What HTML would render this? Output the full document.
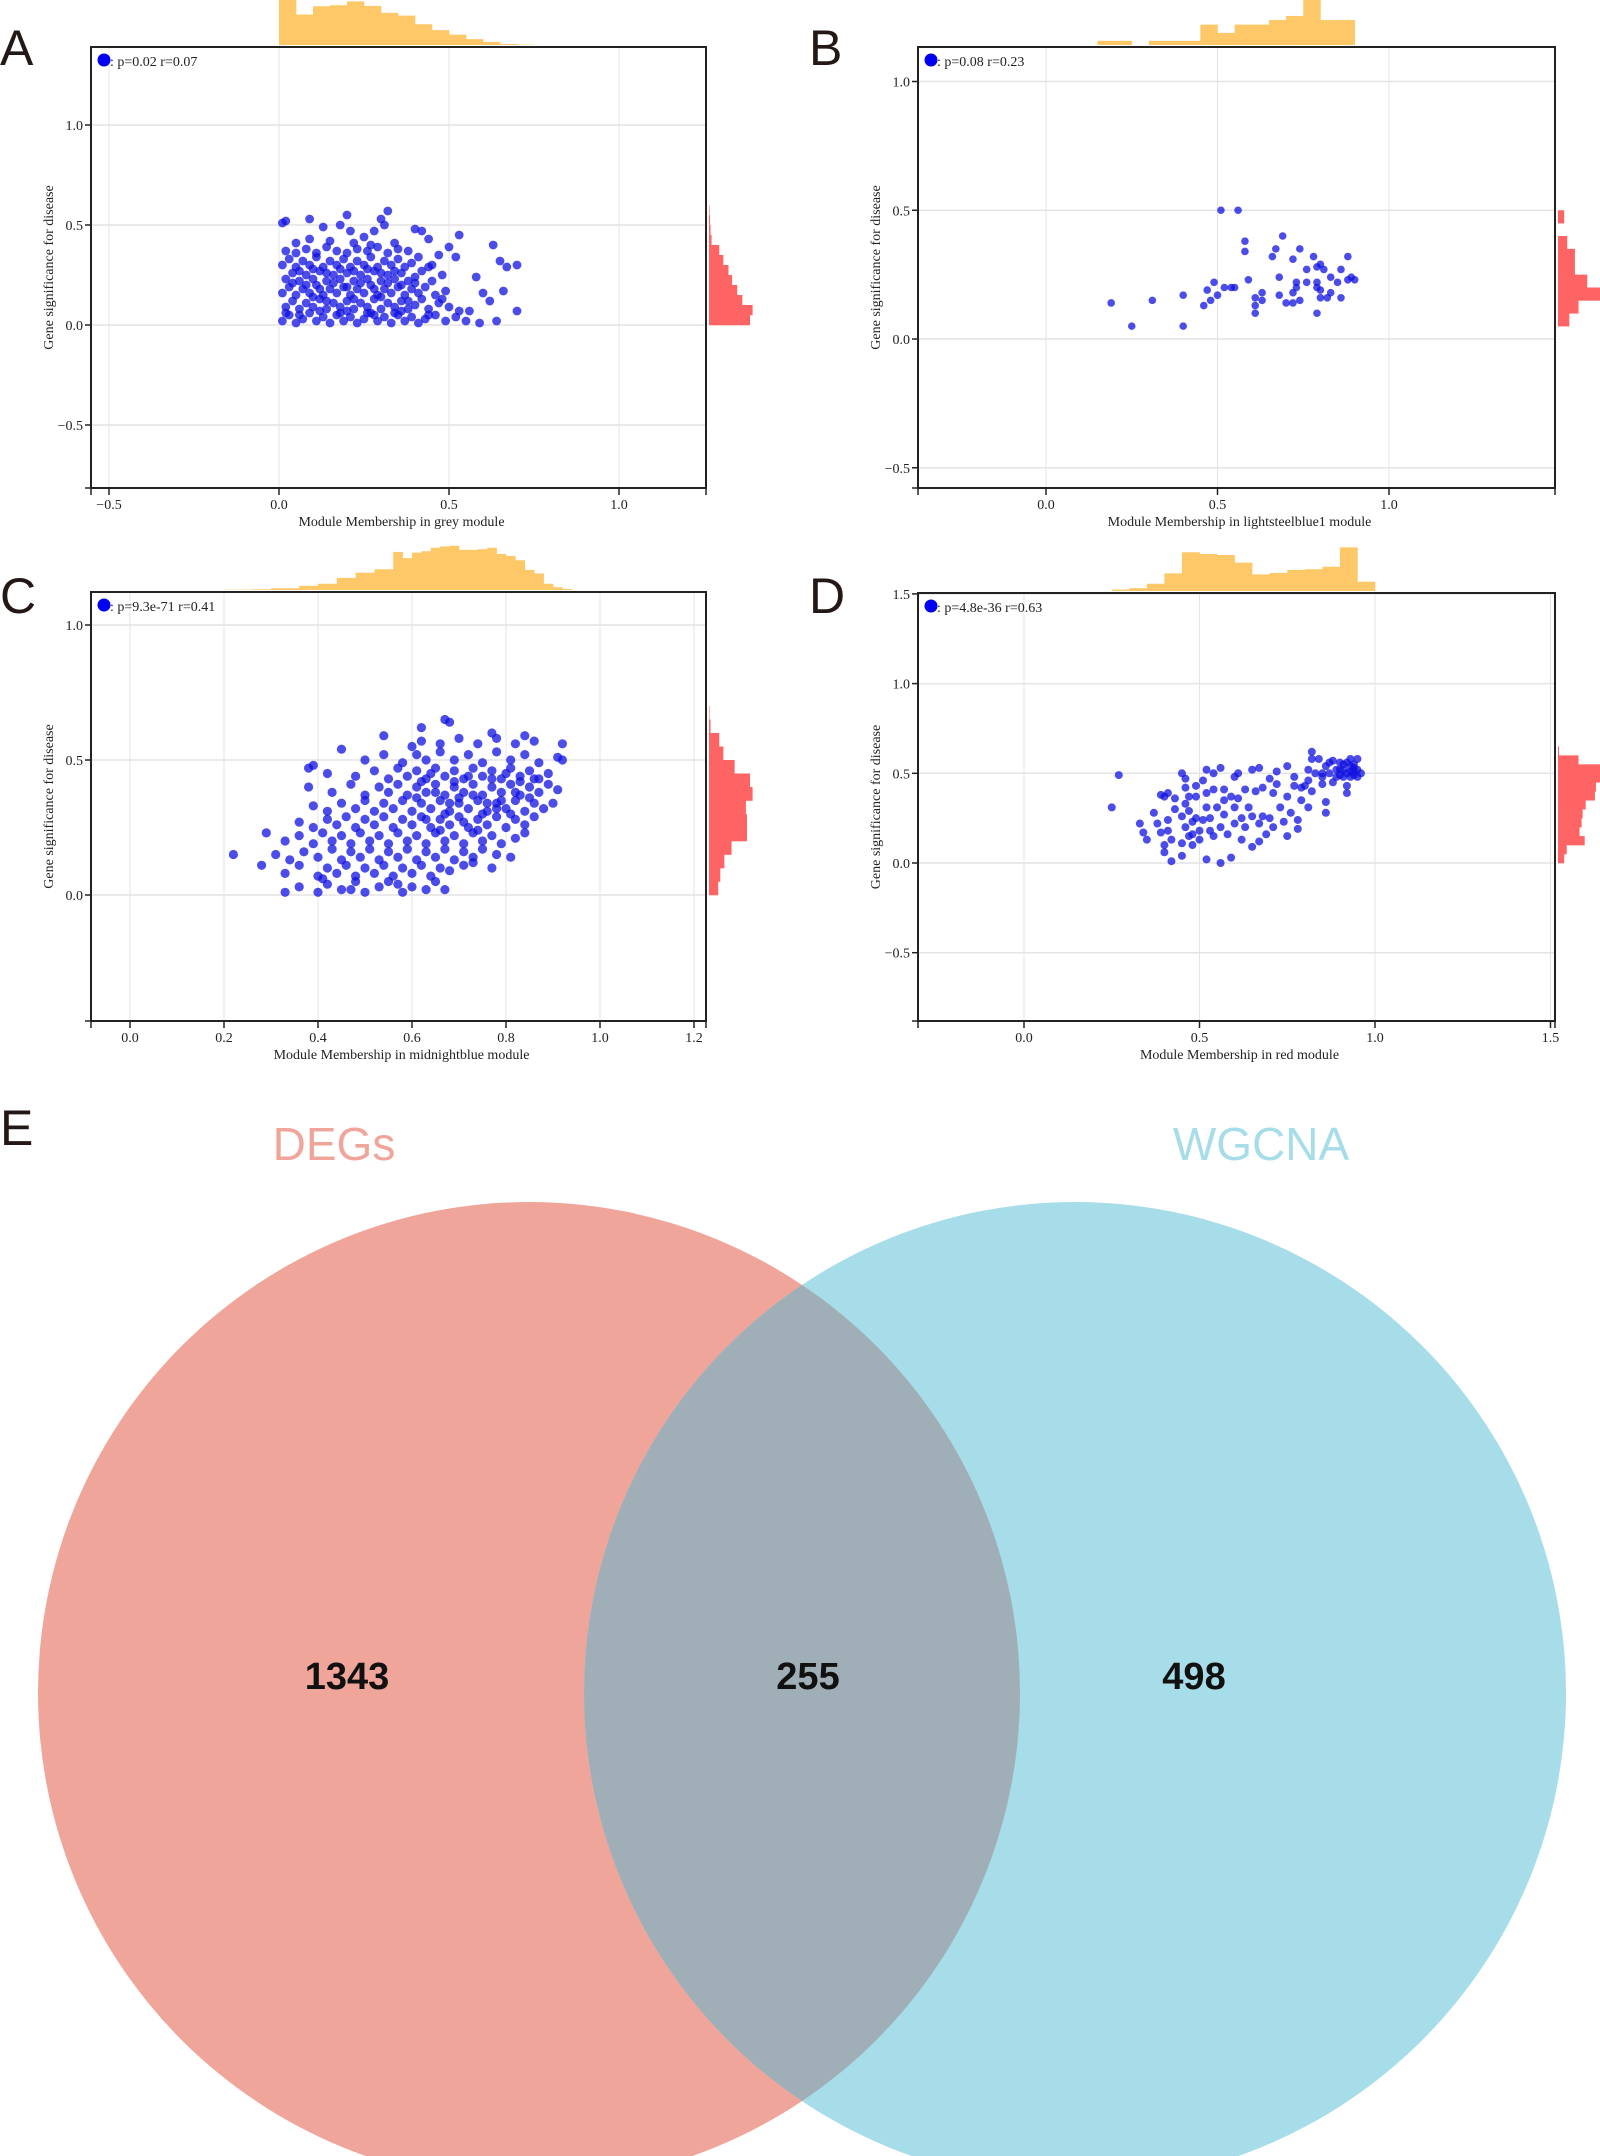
<!DOCTYPE html>
<html>
<head>
<meta charset="utf-8">
<style>
html,body{margin:0;padding:0;background:#fff;}
svg{display:block;}
.tk{font-family:"Liberation Serif",serif;font-size:14px;fill:#222;}
.pl{font-family:"Liberation Sans",sans-serif;font-size:50px;fill:#231815;}
</style>
</head>
<body>
<svg id="fig" xmlns="http://www.w3.org/2000/svg" width="1600" height="2156" viewBox="0 0 1600 2156">
  <rect x="0" y="0" width="1600" height="2156" fill="#fff"/>
  <g id="panels"></g>
  <g id="venn">
    <defs>
      <clipPath id="clipLeft"><circle cx="529" cy="1693" r="491"/></clipPath>
    </defs>
    <circle cx="529" cy="1693" r="491" fill="#F0A59B"/>
    <circle cx="1075" cy="1693" r="491" fill="#A6DDE9"/>
    <circle cx="1075" cy="1693" r="491" fill="#A0AFB7" clip-path="url(#clipLeft)"/>
    <text x="334" y="1160" text-anchor="middle" font-family="Liberation Sans, sans-serif" font-size="46" fill="#F0A59B">DEGs</text>
    <text x="1261" y="1160" text-anchor="middle" font-family="Liberation Sans, sans-serif" font-size="46" fill="#A6DDE9">WGCNA</text>
    <text x="347" y="1689" text-anchor="middle" font-family="Liberation Sans, sans-serif" font-weight="bold" font-size="38" fill="#111">1343</text>
    <text x="808" y="1689" text-anchor="middle" font-family="Liberation Sans, sans-serif" font-weight="bold" font-size="38" fill="#111">255</text>
    <text x="1194" y="1689" text-anchor="middle" font-family="Liberation Sans, sans-serif" font-weight="bold" font-size="38" fill="#111">498</text>
    <text x="0" y="1145" class="pl">E</text>
  </g>
</svg>
<script>
// ---------- Panel A data (grey module) ----------
const ptsA = [
[0.01,0.02],[0.03,0.05],[0.05,0.01],[0.07,0.03],[0.09,0.06],[0.11,0.02],[0.13,0.04],[0.15,0.01],[0.17,0.05],[0.19,0.02],[0.21,0.04],[0.23,0.01],[0.25,0.03],[0.27,0.06],[0.29,0.02],[0.31,0.04],[0.33,0.01],[0.35,0.05],[0.37,0.02],[0.39,0.04],[0.41,0.01],[0.43,0.03],[0.46,0.05],[0.49,0.02],[0.52,0.04],
[0.02,0.09],[0.04,0.12],[0.06,0.08],[0.08,0.11],[0.10,0.09],[0.12,0.13],[0.14,0.08],[0.16,0.11],[0.18,0.09],[0.20,0.12],[0.22,0.08],[0.24,0.11],[0.26,0.09],[0.28,0.13],[0.30,0.08],[0.32,0.11],[0.34,0.09],[0.36,0.12],[0.38,0.08],[0.40,0.10],[0.42,0.13],[0.44,0.08],[0.47,0.11],[0.50,0.09],[0.53,0.07],
[0.01,0.16],[0.03,0.19],[0.05,0.15],[0.07,0.18],[0.09,0.16],[0.11,0.20],[0.13,0.15],[0.15,0.18],[0.17,0.16],[0.19,0.19],[0.21,0.15],[0.23,0.18],[0.25,0.16],[0.27,0.20],[0.29,0.15],[0.31,0.18],[0.33,0.16],[0.35,0.19],[0.37,0.15],[0.39,0.18],[0.41,0.16],[0.43,0.19],[0.46,0.15],[0.49,0.17],
[0.02,0.23],[0.04,0.26],[0.06,0.22],[0.08,0.25],[0.10,0.23],[0.12,0.27],[0.14,0.22],[0.16,0.25],[0.18,0.23],[0.20,0.26],[0.22,0.22],[0.24,0.25],[0.26,0.23],[0.28,0.27],[0.30,0.22],[0.32,0.25],[0.34,0.23],[0.36,0.26],[0.38,0.22],[0.40,0.24],[0.42,0.27],[0.45,0.22],[0.48,0.25],
[0.01,0.30],[0.03,0.33],[0.05,0.29],[0.07,0.32],[0.09,0.30],[0.11,0.34],[0.13,0.29],[0.15,0.32],[0.17,0.30],[0.19,0.33],[0.21,0.29],[0.23,0.32],[0.25,0.30],[0.27,0.34],[0.29,0.29],[0.31,0.32],[0.33,0.30],[0.35,0.33],[0.37,0.29],[0.39,0.31],[0.41,0.34],[0.44,0.29],
[0.02,0.37],[0.05,0.36],[0.08,0.38],[0.11,0.36],[0.14,0.39],[0.17,0.37],[0.20,0.36],[0.23,0.38],[0.26,0.37],[0.29,0.39],[0.32,0.36],[0.35,0.38],[0.38,0.37],
[0.02,0.06],[0.06,0.05],[0.10,0.14],[0.14,0.12],[0.18,0.06],[0.22,0.13],[0.26,0.06],[0.30,0.14],[0.34,0.06],[0.38,0.12],[0.04,0.21],[0.08,0.20],[0.12,0.18],[0.16,0.21],[0.20,0.19],[0.24,0.21],[0.28,0.18],[0.32,0.21],[0.36,0.20],[0.40,0.21],[0.06,0.27],[0.10,0.28],[0.14,0.26],[0.18,0.28],[0.22,0.27],[0.26,0.28],[0.30,0.26],[0.34,0.27],[0.05,0.41],[0.09,0.43],[0.15,0.42],[0.22,0.41],[0.27,0.40],[0.34,0.41],[0.12,0.07],[0.20,0.07],[0.28,0.05],[0.36,0.07],[0.44,0.05],[0.48,0.13],
[0.01,0.51],[0.02,0.52],[0.09,0.53],[0.13,0.49],[0.18,0.50],[0.20,0.55],[0.21,0.47],[0.30,0.53],[0.31,0.50],[0.32,0.57],[0.28,0.47],[0.25,0.44],[0.40,0.48],[0.42,0.47],[0.44,0.43],[0.53,0.45],[0.63,0.40],[0.65,0.32],[0.67,0.29],[0.70,0.30],[0.70,0.07],[0.66,0.17],[0.62,0.12],[0.64,0.02],[0.59,0.01],[0.56,0.07],[0.55,0.02],[0.60,0.16],[0.58,0.24],[0.52,0.34],[0.50,0.39],[0.47,0.35],[0.45,0.30]
];
const topHistA = [130,88,112,115,126,113,93,85,60,43,30,17,9,3,1];
const rightHistA = [80,85,65,55,45,38,28,20,5,3,2,1];
const xTicksA = [-0.5,0,0.5,1.0];
const yTicksA = [-0.5,0,0.5,1.0];

// ---------- Panel B data (lightsteelblue1 module) ----------
const ptsB = [
[0.19,0.14],[0.25,0.05],[0.31,0.15],[0.40,0.05],[0.40,0.17],[0.46,0.13],[0.47,0.19],[0.48,0.15],[0.49,0.22],[0.50,0.17],[0.51,0.50],[0.52,0.20],[0.54,0.20],[0.55,0.20],[0.56,0.50],[0.58,0.38],[0.58,0.34],[0.59,0.23],[0.61,0.16],[0.61,0.13],[0.61,0.10],[0.63,0.18],[0.63,0.15],[0.66,0.32],[0.67,0.35],[0.68,0.24],[0.68,0.17],[0.69,0.40],[0.70,0.14],[0.72,0.31],[0.72,0.18],[0.72,0.14],[0.73,0.22],[0.73,0.20],[0.74,0.35],[0.74,0.15],[0.76,0.27],[0.76,0.22],[0.78,0.32],[0.79,0.28],[0.79,0.22],[0.79,0.20],[0.79,0.10],[0.80,0.29],[0.80,0.16],[0.80,0.19],[0.81,0.27],[0.82,0.16],[0.83,0.24],[0.83,0.18],[0.85,0.22],[0.86,0.27],[0.86,0.16],[0.88,0.32],[0.88,0.23],[0.89,0.24],[0.90,0.23]
];
const topHistB = [12,12,0,12,12,12,59,35,59,59,72,84,130,72,72];
const rightHistB = [22,40,90,57,33,33,18,0,12];
const xTicksB = [0,0.5,1.0];
const yTicksB = [-0.5,0,0.5,1.0];

// ---------- Panel C data (midnightblue module) ----------
const ptsC = [
[0.36,0.03],[0.40,0.01],[0.42,0.04],[0.45,0.02],[0.48,0.05],[0.50,0.01],[0.53,0.03],[0.55,0.05],[0.58,0.01],[0.60,0.03],[0.63,0.02],[0.65,0.05],[0.67,0.02],[0.41,0.06],[0.47,0.02],[0.57,0.04],
[0.33,0.08],[0.36,0.11],[0.40,0.07],[0.42,0.10],[0.44,0.08],[0.46,0.11],[0.48,0.07],[0.50,0.10],[0.52,0.08],[0.54,0.11],[0.56,0.07],[0.58,0.10],[0.60,0.08],[0.62,0.11],[0.64,0.07],[0.66,0.10],[0.68,0.09],[0.71,0.11],[0.73,0.12],[0.77,0.10],
[0.31,0.15],[0.34,0.13],[0.37,0.16],[0.40,0.14],[0.43,0.17],[0.45,0.13],[0.47,0.16],[0.49,0.14],[0.51,0.17],[0.53,0.13],[0.55,0.16],[0.57,0.14],[0.59,0.17],[0.61,0.13],[0.63,0.16],[0.65,0.14],[0.67,0.17],[0.69,0.13],[0.71,0.16],[0.73,0.14],[0.75,0.17],[0.78,0.15],[0.81,0.14],
[0.33,0.20],[0.36,0.22],[0.39,0.19],[0.41,0.23],[0.43,0.20],[0.45,0.22],[0.47,0.19],[0.49,0.23],[0.51,0.20],[0.53,0.22],[0.55,0.19],[0.57,0.23],[0.59,0.20],[0.61,0.22],[0.63,0.19],[0.65,0.23],[0.67,0.20],[0.69,0.22],[0.71,0.19],[0.73,0.23],[0.75,0.20],[0.77,0.22],[0.79,0.19],[0.82,0.21],[0.84,0.23],
[0.36,0.27],[0.39,0.25],[0.42,0.28],[0.44,0.26],[0.46,0.29],[0.48,0.25],[0.50,0.28],[0.52,0.26],[0.54,0.29],[0.56,0.25],[0.58,0.28],[0.60,0.26],[0.62,0.29],[0.64,0.25],[0.66,0.28],[0.68,0.26],[0.70,0.29],[0.72,0.25],[0.74,0.28],[0.76,0.26],[0.78,0.29],[0.80,0.25],[0.82,0.28],[0.84,0.26],[0.86,0.29],
[0.39,0.33],[0.42,0.31],[0.45,0.34],[0.48,0.32],[0.50,0.35],[0.52,0.31],[0.54,0.34],[0.56,0.32],[0.58,0.35],[0.60,0.31],[0.62,0.34],[0.64,0.32],[0.66,0.35],[0.68,0.31],[0.70,0.34],[0.72,0.32],[0.74,0.35],[0.76,0.31],[0.78,0.34],[0.80,0.32],[0.82,0.35],[0.84,0.31],[0.86,0.34],[0.88,0.32],[0.90,0.34],
[0.38,0.40],[0.43,0.38],[0.47,0.41],[0.50,0.37],[0.53,0.40],[0.55,0.38],[0.57,0.41],[0.59,0.37],[0.61,0.40],[0.63,0.38],[0.65,0.41],[0.67,0.37],[0.69,0.40],[0.71,0.38],[0.73,0.41],[0.75,0.37],[0.77,0.40],[0.79,0.38],[0.81,0.41],[0.83,0.37],[0.85,0.40],[0.87,0.38],[0.89,0.41],[0.91,0.39],
[0.42,0.45],[0.48,0.44],[0.52,0.46],[0.55,0.43],[0.57,0.47],[0.59,0.44],[0.61,0.46],[0.63,0.43],[0.65,0.47],[0.67,0.44],[0.69,0.46],[0.71,0.43],[0.73,0.47],[0.75,0.44],[0.77,0.46],[0.79,0.43],[0.81,0.47],[0.83,0.44],[0.85,0.46],[0.87,0.43],[0.89,0.45],
[0.50,0.50],[0.54,0.52],[0.58,0.49],[0.61,0.52],[0.63,0.50],[0.66,0.53],[0.69,0.50],[0.72,0.52],[0.75,0.49],[0.78,0.53],[0.81,0.50],[0.84,0.52],[0.87,0.49],[0.60,0.55],
[0.62,0.57],[0.66,0.56],[0.70,0.58],[0.74,0.56],[0.78,0.58],[0.82,0.56],[0.86,0.57],
[0.61,0.36],[0.63,0.28],[0.65,0.38],[0.67,0.30],[0.69,0.42],[0.71,0.27],[0.73,0.37],[0.75,0.30],[0.77,0.43],[0.79,0.35],[0.81,0.30],[0.83,0.42],[0.85,0.36],[0.62,0.42],[0.66,0.24],[0.70,0.36],[0.74,0.24],[0.78,0.32],[0.82,0.38],[0.86,0.43],[0.64,0.45],[0.68,0.34],[0.72,0.44],[0.76,0.34],[0.80,0.45],
[0.22,0.15],[0.28,0.11],[0.29,0.23],[0.33,0.01],[0.38,0.47],[0.39,0.48],[0.45,0.54],[0.54,0.59],[0.62,0.62],[0.67,0.65],[0.68,0.64],[0.92,0.56],[0.91,0.51],[0.92,0.50],[0.84,0.59],[0.77,0.60]
];
const topHistC = [1,1,1,2,2,5,5,5,12,12,18,18,35,35,50,50,60,60,110,92,108,112,122,126,128,116,116,118,122,104,98,86,58,48,18,8,3];
const rightHistC = [18,22,30,44,74,74,72,85,80,50,28,20,3,1];
const xTicksC = [0,0.2,0.4,0.6,0.8,1.0,1.2];
const yTicksC = [0,0.5,1.0];

// ---------- Panel D data (red module) ----------
const ptsD = [
[0.25,0.31],[0.27,0.49],[0.33,0.22],[0.34,0.17],[0.35,0.13],[0.37,0.28],[0.38,0.22],[0.39,0.38],[0.39,0.17],[0.40,0.10],[0.40,0.06],[0.40,0.37],[0.41,0.39],[0.41,0.18],[0.41,0.24],[0.42,0.13],[0.42,0.01],[0.43,0.30],[0.43,0.36],[0.45,0.50],[0.45,0.11],[0.45,0.26],[0.45,0.04],[0.46,0.47],[0.46,0.42],[0.46,0.33],[0.46,0.20],[0.47,0.15],[0.47,0.37],[0.47,0.29],[0.48,0.23],[0.48,0.16],[0.48,0.10],[0.49,0.43],[0.49,0.37],[0.49,0.25],[0.50,0.13],[0.50,0.18],[0.51,0.46],[0.51,0.24],[0.52,0.31],[0.52,0.52],[0.52,0.39],[0.52,0.02],[0.53,0.18],[0.53,0.25],[0.54,0.50],[0.54,0.41],[0.54,0.15],[0.55,0.31],[0.56,0.20],[0.56,0.00],[0.56,0.53],[0.57,0.35],[0.57,0.41],[0.57,0.27],[0.58,0.16],[0.59,0.37],[0.59,0.03],[0.60,0.48],[0.60,0.31],[0.60,0.22],[0.61,0.50],[0.61,0.36],[0.62,0.13],[0.62,0.25],[0.63,0.41],[0.63,0.20],[0.64,0.31],[0.65,0.52],[0.65,0.09],[0.65,0.26],[0.66,0.40],[0.67,0.12],[0.67,0.53],[0.67,0.22],[0.68,0.26],[0.68,0.42],[0.69,0.16],[0.70,0.25],[0.70,0.47],[0.71,0.39],[0.71,0.20],[0.72,0.51],[0.72,0.44],[0.73,0.31],[0.74,0.23],[0.75,0.54],[0.75,0.15],[0.75,0.37],[0.76,0.28],[0.77,0.43],[0.77,0.48],[0.78,0.19],[0.78,0.24],[0.79,0.42],[0.79,0.35],[0.80,0.43],[0.81,0.52],[0.81,0.46],[0.81,0.31],[0.82,0.58],[0.82,0.62],[0.82,0.40],[0.83,0.50],[0.84,0.58],[0.85,0.48],[0.85,0.44],[0.85,0.50],[0.86,0.34],[0.86,0.28],[0.86,0.54],[0.87,0.56],[0.87,0.50],[0.88,0.57],[0.88,0.45],[0.89,0.52],[0.89,0.48],[0.90,0.52],[0.90,0.56],[0.91,0.48],[0.91,0.52],[0.92,0.43],[0.92,0.39],[0.92,0.56],[0.92,0.50],[0.93,0.54],[0.93,0.48],[0.93,0.58],[0.94,0.51],[0.94,0.55],[0.94,0.49],[0.95,0.52],[0.95,0.48],[0.95,0.58],[0.96,0.50],[0.91,0.55],[0.93,0.51],[0.94,0.53],[0.90,0.49]
];
const topHistD = [4,8,21,51,112,107,104,82,48,52,61,63,70,126,27];
const rightHistD = [12,17,52,42,46,48,54,72,74,88,86,40,2];
const xTicksD = [0,0.5,1.0,1.5];
const yTicksD = [-0.5,0,0.5,1.0,1.5];

// ---------- layout (geometry only) ----------
const panels = [
 {id:'a', letter:'A', lx:0, ly:65, box:[91,47,706,488], x0:279, xu:340, y0:325, yu:200, pts:ptsA, xt:xTicksA, yt:yTicksA, dot:4.4,
  topHist:topHistA, topStart:0, topBin:0.05, rightHist:rightHistA, rightStart:0, rightBin:0.05,
  stat:': p=0.02 r=0.07', xtitle:'Module Membership in grey module'},
 {id:'b', letter:'B', lx:809, ly:65, box:[918,47,1555,488], x0:1046, xu:343, y0:339, yu:257.5, pts:ptsB, xt:xTicksB, yt:yTicksB, dot:3.8,
  topHist:topHistB, topStart:0.15, topBin:0.05, rightHist:rightHistB, rightStart:0.05, rightBin:0.05,
  stat:': p=0.08 r=0.23', xtitle:'Module Membership in lightsteelblue1 module'},
 {id:'c', letter:'C', lx:0, ly:613, box:[91,592,706,1021], x0:130, xu:470, y0:895, yu:270, pts:ptsC, xt:xTicksC, yt:yTicksC, dot:4.6,
  topHist:topHistC, topStart:0.2, topBin:0.02, rightHist:rightHistC, rightStart:0, rightBin:0.05,
  stat:': p=9.3e-71 r=0.41', xtitle:'Module Membership in midnightblue module'},
 {id:'d', letter:'D', lx:809, ly:613, box:[918,593,1555,1021], x0:1024, xu:351, y0:863, yu:179.4, pts:ptsD, xt:xTicksD, yt:yTicksD, dot:4.0,
  topHist:topHistD, topStart:0.25, topBin:0.05, rightHist:rightHistD, rightStart:0, rightBin:0.05,
  stat:': p=4.8e-36 r=0.63', xtitle:'Module Membership in red module'}
];

const NS = 'http://www.w3.org/2000/svg';
function mk(tag, parent){ const e = document.createElementNS(NS, tag); parent.appendChild(e); return e; }
function fmt(v){ const s = Math.abs(v).toFixed(1); return v < 0 ? '\u2212' + s : s; }
const root = document.getElementById('panels');

panels.forEach(p => {
  const xs = v => p.x0 + v * p.xu;
  const ys = v => p.y0 - v * p.yu;
  const [L, T, R, B] = p.box;
  const g = mk('g', root);
  
  

  p.xt.forEach(v => {
    const ln = mk('line', g);
    ln.setAttribute('x1', xs(v)); ln.setAttribute('x2', xs(v)); ln.setAttribute('y1', T); ln.setAttribute('y2', B);
    ln.setAttribute('stroke', '#e4e4e4'); ln.setAttribute('stroke-width', '1');
    
    
  });
  p.yt.forEach(v => {
    const ln = mk('line', g);
    ln.setAttribute('x1', L); ln.setAttribute('x2', R); ln.setAttribute('y1', ys(v)); ln.setAttribute('y2', ys(v));
    ln.setAttribute('stroke', '#e4e4e4'); ln.setAttribute('stroke-width', '1.5');
    
    
  });

  p.topHist.forEach((v, i) => {
    const x1 = xs(p.topStart + i * p.topBin), x2 = xs(p.topStart + (i + 1) * p.topBin);
    const h = v * 0.346;
    const r = mk('rect', g);
    r.setAttribute('x', x1); r.setAttribute('width', x2 - x1 + 0.3);
    r.setAttribute('y', T - 2 - h); r.setAttribute('height', h);
    r.setAttribute('fill', '#FEC868');
    
    
  });
  p.rightHist.forEach((v, i) => {
    const y1 = ys(p.rightStart + (i + 1) * p.rightBin), y2 = ys(p.rightStart + i * p.rightBin);
    const w = v * 0.513;
    const r = mk('rect', g);
    r.setAttribute('x', R + 3); r.setAttribute('width', w);
    r.setAttribute('y', y1); r.setAttribute('height', y2 - y1 + 0.3);
    r.setAttribute('fill', '#FE6464');
    
    
  });

  p.pts.forEach(pt => {
    const c = mk('circle', g);
    c.setAttribute('cx', xs(pt[0])); c.setAttribute('cy', ys(pt[1])); c.setAttribute('r', p.dot);
    c.setAttribute('fill', '#1010e0'); c.setAttribute('fill-opacity', '0.75');
    
    
  });

  const fr = mk('rect', g);
  fr.setAttribute('x', L); fr.setAttribute('y', T); fr.setAttribute('width', R - L); fr.setAttribute('height', B - T);
  fr.setAttribute('fill', 'none'); fr.setAttribute('stroke', '#222'); fr.setAttribute('stroke-width', '2');
  
  

  [L, R].forEach(xp => {
    const t = mk('line', g);
    t.setAttribute('x1', xp); t.setAttribute('x2', xp); t.setAttribute('y1', B); t.setAttribute('y2', B + 7);
    t.setAttribute('stroke', '#222'); t.setAttribute('stroke-width', '1.5');
    
    
  });
  p.xt.forEach(v => {
    const t = mk('line', g);
    t.setAttribute('x1', xs(v)); t.setAttribute('x2', xs(v)); t.setAttribute('y1', B); t.setAttribute('y2', B + 7);
    t.setAttribute('stroke', '#222'); t.setAttribute('stroke-width', '1.5');
    
    
    const tx = mk('text', g);
    tx.setAttribute('x', xs(v)); tx.setAttribute('y', B + 21); tx.setAttribute('text-anchor', 'middle');
    tx.setAttribute('class', 'tk');
    tx.textContent = fmt(v);
    
    
  });
  const yb = mk('line', g);
  yb.setAttribute('x1', L - 6); yb.setAttribute('x2', L); yb.setAttribute('y1', B); yb.setAttribute('y2', B);
  yb.setAttribute('stroke', '#222'); yb.setAttribute('stroke-width', '1.5');
  
  
  p.yt.forEach(v => {
    const t = mk('line', g);
    t.setAttribute('x1', L - 6); t.setAttribute('x2', L); t.setAttribute('y1', ys(v)); t.setAttribute('y2', ys(v));
    t.setAttribute('stroke', '#222'); t.setAttribute('stroke-width', '1.5');
    
    
    const tx = mk('text', g);
    tx.setAttribute('x', L - 8); tx.setAttribute('y', ys(v) + 5); tx.setAttribute('text-anchor', 'end');
    tx.setAttribute('class', 'tk');
    tx.textContent = fmt(v);
    
    
  });

  const xt = mk('text', g);
  xt.setAttribute('x', (L + R) / 2 + 3); xt.setAttribute('y', B + 38); xt.setAttribute('text-anchor', 'middle');
  xt.setAttribute('class', 'tk');
  xt.textContent = p.xtitle;
  
  
  const yt = mk('text', g);
  const ycx = L - 38, ycy = (T + B) / 2;
  yt.setAttribute('x', ycx); yt.setAttribute('y', ycy); yt.setAttribute('text-anchor', 'middle');
  yt.setAttribute('transform', 'rotate(-90 ' + ycx + ' ' + ycy + ')');
  yt.setAttribute('class', 'tk');
  yt.textContent = 'Gene significance for disease';
  
  

  const ld = mk('circle', g);
  ld.setAttribute('cx', L + 13); ld.setAttribute('cy', T + 13); ld.setAttribute('r', 6.5);
  ld.setAttribute('fill', '#0000f0');
  
  
  const lt = mk('text', g);
  lt.setAttribute('x', L + 19); lt.setAttribute('y', T + 19);
  lt.setAttribute('class', 'tk');
  lt.textContent = p.stat;
  
  

  const pl = mk('text', g);
  pl.setAttribute('x', p.lx); pl.setAttribute('y', p.ly);
  pl.setAttribute('class', 'pl');
  pl.textContent = p.letter;
  
  
});
</script>
</body>
</html>
